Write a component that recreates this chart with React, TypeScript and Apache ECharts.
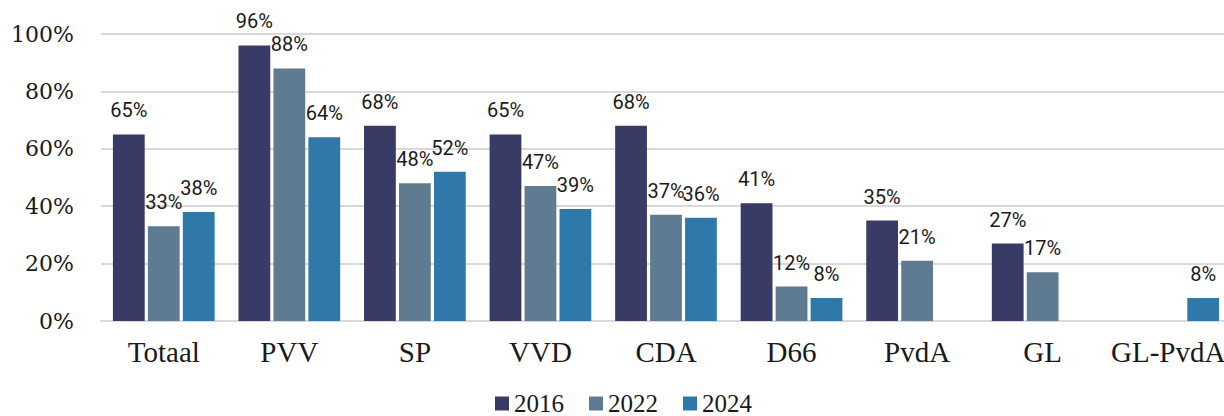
import React, { useEffect, useRef } from "react";
import * as echarts from "echarts";

const categories = ["Totaal", "PVV", "SP", "VVD", "CDA", "D66", "PvdA", "GL", "GL-PvdA"];
const series2016 = [65, 96, 68, 65, 68, 41, 35, 27, null];
const series2022 = [33, 88, 48, 47, 37, 12, 21, 17, null];
const series2024 = [38, 64, 52, 39, 36, 8, null, null, 8];
const yTicks = [0, 20, 40, 60, 80, 100];

const colors = ["#383b66", "#5f7b91", "#2e79aa"];

export default function App() {
  const ref = useRef<HTMLDivElement>(null);
  useEffect(() => {
    document.body.style.margin = "0";
    document.body.style.overflow = "hidden";
    const chart = echarts.init(ref.current!, null, { renderer: "svg" });
    const label = {
      show: true,
      position: "top",
      distance: 14,
      fontFamily: "Roboto",
      fontSize: 20,
      color: "#1a1a1a",
      formatter: (p: any) => (p.value == null ? "" : p.value + "%"),
    };
    const mk = (name: string, data: (number | null)[], i: number) => ({
      name,
      type: "bar",
      data,
      itemStyle: { color: colors[i] },
      barGap: "10%",
      barCategoryGap: "19%",
      label,
    });
    chart.setOption({
      animation: false,
      grid: { left: 101, right: 0, top: 34, bottom: 95 },
      legend: {
        top: 386,
        left: 495 - 5,
        itemWidth: 14,
        itemHeight: 14,
        itemGap: 25,
        icon: "rect",
        textStyle: { fontFamily: "Liberation Serif", fontSize: 25, color: "#1a1a1a", padding: [0, 0, 0, 0] },
        data: ["2016", "2022", "2024"],
      },
      xAxis: {
        type: "category",
        data: categories,
        axisLine: { show: true, lineStyle: { color: "#d9d9d9", width: 2 } },
        axisTick: { show: false },
        axisLabel: { fontFamily: "Liberation Serif", fontSize: 29, color: "#1a1a1a", margin: 16, interval: 0 },
      },
      yAxis: {
        type: "value",
        min: yTicks[0],
        max: yTicks[yTicks.length - 1],
        interval: 20,
        axisLine: { show: false },
        axisTick: { show: false },
        splitLine: { lineStyle: { color: "#d9d9d9", width: 2 } },
        axisLabel: {
          fontFamily: "DejaVu Serif",
          fontSize: 22,
          color: "#1a1a1a",
          margin: 27,
          formatter: (v: number) => v + "%",
        },
      },
      series: [mk("2016", series2016, 0), mk("2022", series2022, 1), mk("2024", series2024, 2)],
    });
    return () => chart.dispose();
  }, []);
  return <div ref={ref} style={{ width: 1231, height: 416 }} />;
}
